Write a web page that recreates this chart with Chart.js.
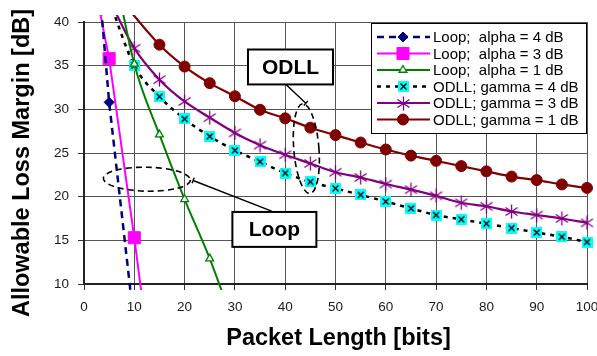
<!DOCTYPE html>
<html>
<head>
<meta charset="utf-8">
<script src="https://cdn.jsdelivr.net/npm/chart.js@4.4.0/dist/chart.umd.min.js"></script>
<style>
html, body { margin: 0; padding: 0; background: #fff; }
</style>
</head>
<body>
<canvas id="myChart" width="597" height="356"></canvas>
<script>
// packet lengths (bits) and margins (dB)
var loopA4X = [1, 5, 10];
var loopA4Y = [58, 30.8, 5.3];
var loopA3X = [1, 5, 10, 15];
var loopA3Y = [47.4, 35.8, 15.3, -7];
var loopA1X = [5, 10, 15, 20, 25, 30];
var loopA1Y = [49, 35.2, 27.1, 19.7, 12.9, 5];

var odllX = [5, 10, 15, 20, 25, 30, 35, 40, 45, 50, 55, 60, 65, 70, 75, 80, 85, 90, 95, 100];
var odllG4Y = [42.5, 35.0, 31.45, 28.9, 26.9, 25.3, 24.0, 22.7, 21.7, 20.95, 20.2, 19.45, 18.65, 17.9, 17.4, 16.9, 16.4, 15.9, 15.4, 14.8];
var odllG3Y = [42.6, 37.0, 33.4, 30.9, 29.05, 27.3, 25.9, 24.8, 23.8, 22.8, 22.2, 21.45, 20.8, 20.1, 19.3, 18.9, 18.3, 17.9, 17.5, 17.0];
var odllG1X = [5, 15, 20, 25, 30, 35, 40, 45, 50, 55, 60, 65, 70, 75, 80, 85, 90, 95, 100];
var odllG1Y = [44.2, 37.4, 34.9, 33.0, 31.5, 29.95, 28.97, 27.9, 27.05, 26.2, 25.4, 24.7, 24.1, 23.5, 22.9, 22.3, 21.9, 21.4, 21.0];

var seriesLabels = ['Loop;  alpha = 4 dB', 'Loop;  alpha = 3 dB', 'Loop;  alpha = 1 dB',
    'ODLL; gamma = 4 dB', 'ODLL; gamma = 3 dB', 'ODLL; gamma = 1 dB'];
var xTicks = [0, 10, 20, 30, 40, 50, 60, 70, 80, 90, 100];
var yTicks = [10, 15, 20, 25, 30, 35, 40];

var FONT = "'Liberation Sans', Arial, sans-serif";

function pts(xs, ys) {
    return xs.map(function(x, i) { return {x: x, y: ys[i]}; });
}

// cyan box with a black cross
var cyanX = document.createElement('canvas');
cyanX.width = 11; cyanX.height = 11;
(function() {
    var c = cyanX.getContext('2d');
    c.fillStyle = '#00ffff';
    c.fillRect(0, 0, 11, 11);
    c.strokeStyle = '#000';
    c.lineWidth = 1.4;
    c.beginPath();
    c.moveTo(2.5, 2.5); c.lineTo(8.5, 8.5);
    c.moveTo(8.5, 2.5); c.lineTo(2.5, 8.5);
    c.stroke();
})();

// excel style star: X plus vertical bar
var purpleStar = document.createElement('canvas');
purpleStar.width = 15; purpleStar.height = 15;
(function() {
    var c = purpleStar.getContext('2d');
    c.strokeStyle = '#800080';
    c.lineWidth = 1.3;
    c.beginPath();
    c.moveTo(7.5, 0.5); c.lineTo(7.5, 14.5);
    c.moveTo(1.5, 3.5); c.lineTo(13.5, 11.5);
    c.moveTo(1.5, 11.5); c.lineTo(13.5, 3.5);
    c.stroke();
})();

var clipBox = {left: 8, top: 7, right: 8, bottom: 6};

var datasets = [{
    label: seriesLabels[0],
    data: pts(loopA4X, loopA4Y),
    borderColor: '#000080', backgroundColor: '#000080',
    borderWidth: 2.5, borderDash: [7, 5], tension: 0,
    pointStyle: 'rectRot', pointRadius: 5, pointBorderWidth: 1
}, {
    label: seriesLabels[1],
    data: pts(loopA3X, loopA3Y),
    borderColor: '#ff00ff', backgroundColor: '#ff00ff',
    borderWidth: 2, tension: 0,
    pointStyle: 'rect', pointRadius: 8.5, pointBorderWidth: 1
}, {
    label: seriesLabels[2],
    data: pts(loopA1X, loopA1Y),
    borderColor: '#008000', backgroundColor: '#ffffff',
    borderWidth: 2, cubicInterpolationMode: 'monotone',
    pointStyle: 'triangle', pointRadius: 4.5, pointBorderWidth: 1.3
}, {
    label: seriesLabels[3],
    data: pts(odllX, odllG4Y),
    borderColor: '#000000', backgroundColor: '#000000',
    borderWidth: 2.5, borderDash: [4, 5], cubicInterpolationMode: 'monotone',
    pointStyle: cyanX
}, {
    label: seriesLabels[4],
    data: pts(odllX, odllG3Y),
    borderColor: '#800080', backgroundColor: '#800080',
    borderWidth: 2.2, cubicInterpolationMode: 'monotone',
    pointStyle: purpleStar
}, {
    label: seriesLabels[5],
    data: pts(odllG1X, odllG1Y),
    borderColor: '#800000', backgroundColor: '#800000',
    borderWidth: 2.2, cubicInterpolationMode: 'monotone',
    pointStyle: 'circle', pointRadius: 5.5, pointBorderWidth: 1
}];
datasets.forEach(function(d) {
    d.showLine = true;
    d.clip = clipBox;
    d.pointHoverRadius = d.pointRadius;
});

function drawMarker(ctx, d, x, y) {
    var ps = d.pointStyle, r = d.pointRadius;
    if (typeof ps !== 'string') {
        ctx.drawImage(ps, Math.round(x - ps.width / 2), Math.round(y - ps.height / 2));
        return;
    }
    ctx.save();
    ctx.setLineDash([]);
    ctx.fillStyle = d.backgroundColor;
    ctx.strokeStyle = d.borderColor;
    ctx.lineWidth = d.pointBorderWidth || 1;
    ctx.beginPath();
    if (ps === 'circle') {
        ctx.arc(x, y, r, 0, Math.PI * 2);
    } else if (ps === 'rect') {
        var s = r * Math.SQRT1_2;
        ctx.rect(x - s, y - s, 2 * s, 2 * s);
    } else if (ps === 'rectRot') {
        ctx.moveTo(x, y - r); ctx.lineTo(x + r, y); ctx.lineTo(x, y + r); ctx.lineTo(x - r, y);
        ctx.closePath();
    } else if (ps === 'triangle') {
        ctx.moveTo(x, y - r); ctx.lineTo(x + 0.866 * r, y + 0.5 * r); ctx.lineTo(x - 0.866 * r, y + 0.5 * r);
        ctx.closePath();
    }
    ctx.fill();
    ctx.stroke();
    ctx.restore();
}

// callouts, in data units
var loopEllipse = {x: 12.5, y: 22.0, rx: 8.65, ry: 1.37, rot: 0.02};
var odllEllipse = {x: 44.2, y: 25.5, rx: 2.5, ry: 5.15, rot: -0.08};
var loopBox = {x1: 29.5, x2: 46.2, y1: 18.25, y2: 14.25, text: 'Loop'};
var odllBox = {x1: 32.6, x2: 49.5, y1: 36.85, y2: 32.85, text: 'ODLL'};
var loopLeader = [21.7, 21.85, 37.3, 18.35];
var odllLeader = [44.1, 30.7, 40.15, 32.85];

var callouts = {
    id: 'callouts',
    afterDatasetsDraw: function(chart) {
        var ctx = chart.ctx, xs = chart.scales.x, ys = chart.scales.y;
        var px = function(v) { return xs.getPixelForValue(v); };
        var py = function(v) { return ys.getPixelForValue(v); };
        var ppx = xs.width / (xs.max - xs.min), ppy = ys.height / (ys.max - ys.min);
        ctx.save();

        // dashed ellipses
        ctx.strokeStyle = '#000';
        ctx.lineWidth = 1.6;
        ctx.setLineDash([6, 4]);
        [loopEllipse, odllEllipse].forEach(function(e) {
            ctx.beginPath();
            ctx.ellipse(px(e.x), py(e.y), e.rx * ppx, e.ry * ppy, e.rot, 0, Math.PI * 2);
            ctx.stroke();
        });
        ctx.setLineDash([]);

        // leader lines with a small end tick
        ctx.lineWidth = 1.4;
        [loopLeader, odllLeader].forEach(function(l) {
            var x1 = px(l[0]), y1 = py(l[1]), x2 = px(l[2]), y2 = py(l[3]);
            var dx = x2 - x1, dy = y2 - y1, len = Math.sqrt(dx * dx + dy * dy);
            var nx = -dy / len * 3, ny = dx / len * 3;
            ctx.beginPath();
            ctx.moveTo(x1, y1); ctx.lineTo(x2, y2);
            ctx.moveTo(x1 - nx, y1 - ny); ctx.lineTo(x1 + nx, y1 + ny);
            ctx.stroke();
        });

        // labelled boxes
        [loopBox, odllBox].forEach(function(b) {
            var x1 = px(b.x1), x2 = px(b.x2), y1 = py(b.y1), y2 = py(b.y2);
            ctx.fillStyle = '#fff';
            ctx.fillRect(x1, y1, x2 - x1, y2 - y1);
            ctx.lineWidth = 2;
            ctx.strokeStyle = '#000';
            ctx.strokeRect(x1, y1, x2 - x1, y2 - y1);
            ctx.fillStyle = '#000';
            ctx.font = 'bold 21px ' + FONT;
            ctx.textAlign = 'center';
            ctx.textBaseline = 'middle';
            ctx.fillText(b.text, (x1 + x2) / 2, (y1 + y2) / 2 + 1);
        });
        ctx.restore();
    },
    afterDraw: function(chart) {
        var ctx = chart.ctx, area = chart.chartArea;
        ctx.save();

        // legend box in the upper right of the plot
        var lx = area.right - 216, ly = area.top + 1, lw = 215, lh = 110;
        ctx.fillStyle = '#fff';
        ctx.fillRect(lx, ly, lw, lh);
        ctx.strokeStyle = '#000';
        ctx.lineWidth = 1;
        ctx.strokeRect(lx + 0.5, ly + 0.5, lw, lh);
        chart.data.datasets.forEach(function(d, i) {
            var ry = ly + 14 + i * 16.5;
            ctx.save();
            ctx.strokeStyle = d.borderColor;
            ctx.lineWidth = d.borderWidth;
            ctx.setLineDash(d.borderDash || []);
            ctx.beginPath();
            ctx.moveTo(lx + 6, ry); ctx.lineTo(lx + 59, ry);
            ctx.stroke();
            ctx.restore();
            drawMarker(ctx, d, lx + 32, ry);
            ctx.fillStyle = '#000';
            ctx.font = '15px ' + FONT;
            ctx.textAlign = 'left';
            ctx.textBaseline = 'middle';
            ctx.fillText(d.label, lx + 62, ry + 1);
        });

        // axis titles
        ctx.fillStyle = '#000';
        ctx.font = 'bold 23.5px ' + FONT;
        ctx.textAlign = 'center';
        ctx.textBaseline = 'middle';
        ctx.fillText('Packet Length [bits]', (area.left + area.right) / 2 + 3, area.bottom + 55);
        ctx.translate(23, (area.top + area.bottom) / 2 + 10);
        ctx.rotate(-Math.PI / 2);
        ctx.fillText('Allowable Loss Margin [dB]', 0, 0);
        ctx.restore();
    }
};

var ctx = document.getElementById('myChart').getContext('2d');
var chart = new Chart(ctx, {
    type: 'scatter',
    data: { datasets: datasets },
    plugins: [callouts],
    options: {
        responsive: false,
        animation: false,
        devicePixelRatio: 1,
        layout: { padding: { left: 0, top: 22, right: 10, bottom: 0 } },
        plugins: {
            legend: { display: false },
            tooltip: { enabled: false }
        },
        scales: {
            x: {
                type: 'linear',
                min: 0, max: 100,
                afterBuildTicks: function(s) { s.ticks = xTicks.map(function(v) { return {value: v}; }); },
                afterFit: function(s) { s.height = 72; s.paddingLeft = 0; s.paddingRight = 0; },
                ticks: {
                    color: '#1a1a1a', padding: 9, maxRotation: 0,
                    font: { family: FONT, size: 13.5 }
                },
                grid: { color: '#555', lineWidth: 1, tickLength: 6, tickColor: '#333' },
                border: { color: '#222', width: 2 }
            },
            y: {
                type: 'linear',
                min: 10, max: 40,
                afterBuildTicks: function(s) { s.ticks = yTicks.map(function(v) { return {value: v}; }); },
                afterFit: function(s) { s.width = 84; s.paddingTop = 0; s.paddingBottom = 0; },
                ticks: {
                    color: '#1a1a1a', padding: 9,
                    font: { family: FONT, size: 13.5 }
                },
                grid: { color: '#555', lineWidth: 1, tickLength: 6, tickColor: '#333' },
                border: { color: '#222', width: 2 }
            }
        }
    }
});
</script>
</body>
</html>
